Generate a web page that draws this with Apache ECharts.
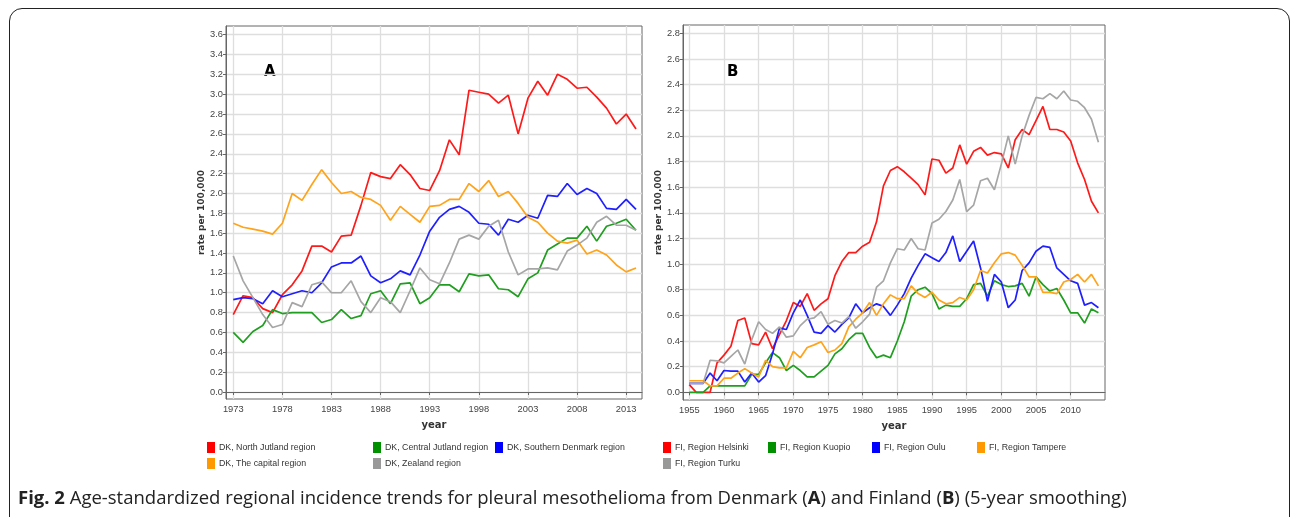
<!DOCTYPE html>
<html>
<head>
<meta charset="utf-8">
<script src="https://cdn.jsdelivr.net/npm/echarts@6/dist/echarts.min.js"></script>
<style>
  body { margin: 0; background: #fff; }
  #frame { position: absolute; left: 9px; top: 8px; width: 1279px; height: 540px;
           border: 1.5px solid #222; border-radius: 13px; }
  #main { position: absolute; left: 0; top: 0; width: 1293px; height: 517px; }
</style>
</head>
<body>
<div id="frame"></div>
<div id="main"></div>
<script>
// Denmark (A), 1973-2014
var yearsDK = [];
for (var y = 1973; y <= 2014; y++) yearsDK.push(y);
var dkNames = ['DK, North Jutland region', 'DK, Central Jutland region', 'DK, Southern Denmark region',
               'DK, The capital region', 'DK, Zealand region'];
var dkNorthJutland = [0.78,0.97,0.95,0.84,0.80,0.98,1.08,1.22,1.47,1.47,1.41,1.57,1.58,1.88,2.21,2.17,2.15,2.29,2.19,2.05,2.03,2.23,2.54,2.39,3.04,3.02,3.00,2.91,2.99,2.60,2.96,3.13,2.99,3.20,3.15,3.06,3.07,2.97,2.86,2.70,2.80,2.65];
var dkCentralJutland = [0.60,0.50,0.61,0.67,0.83,0.79,0.80,0.80,0.80,0.70,0.73,0.83,0.74,0.77,0.99,1.02,0.89,1.09,1.10,0.89,0.95,1.08,1.08,1.01,1.19,1.17,1.18,1.04,1.03,0.96,1.14,1.20,1.43,1.49,1.55,1.55,1.67,1.52,1.67,1.70,1.74,1.63];
var dkSouthernDenmark = [0.93,0.95,0.94,0.89,1.02,0.96,0.99,1.02,1.00,1.10,1.26,1.30,1.30,1.37,1.17,1.10,1.14,1.22,1.18,1.38,1.62,1.76,1.84,1.87,1.81,1.70,1.69,1.58,1.74,1.71,1.78,1.75,1.98,1.97,2.10,1.99,2.05,2.00,1.85,1.84,1.94,1.84];
var dkCapital = [1.70,1.66,1.64,1.62,1.59,1.70,2.00,1.93,2.09,2.24,2.11,2.00,2.02,1.96,1.94,1.88,1.73,1.87,1.79,1.71,1.87,1.88,1.94,1.94,2.10,2.02,2.13,1.97,2.02,1.90,1.76,1.71,1.60,1.52,1.50,1.53,1.39,1.43,1.38,1.28,1.21,1.25];
var dkZealand = [1.37,1.12,0.95,0.78,0.65,0.68,0.90,0.86,1.08,1.11,1.00,1.00,1.12,0.91,0.80,0.95,0.91,0.80,1.02,1.25,1.13,1.09,1.30,1.54,1.58,1.54,1.67,1.73,1.41,1.18,1.24,1.24,1.25,1.23,1.42,1.48,1.55,1.71,1.77,1.68,1.68,1.63];
var dkTicks = [1973,1978,1983,1988,1993,1998,2003,2008,2013];
var dkRateTicks = [0,0.2,0.4,0.6,0.8,1.0,1.2,1.4,1.6,1.8,2.0,2.2,2.4,2.6,2.8,3.0,3.2,3.4,3.6];

// Finland (B), 1955-2014
var yearsFI = [];
for (var y2 = 1955; y2 <= 2014; y2++) yearsFI.push(y2);
var fiNames = ['FI, Region Helsinki', 'FI, Region Kuopio', 'FI, Region Oulu', 'FI, Region Tampere', 'FI, Region Turku'];
var fiHelsinki = [0.06,0.00,0.00,0.00,0.23,0.29,0.36,0.56,0.58,0.38,0.37,0.47,0.34,0.45,0.56,0.70,0.67,0.77,0.64,0.69,0.73,0.91,1.02,1.09,1.09,1.14,1.17,1.33,1.61,1.73,1.76,1.72,1.67,1.62,1.54,1.82,1.81,1.71,1.75,1.93,1.78,1.88,1.91,1.85,1.87,1.86,1.75,1.97,2.05,2.01,2.12,2.23,2.05,2.05,2.03,1.96,1.79,1.66,1.49,1.40];
var fiKuopio = [0.00,0.00,0.00,0.05,0.05,0.05,0.05,0.05,0.05,0.14,0.14,0.23,0.31,0.27,0.17,0.21,0.17,0.12,0.12,0.165,0.21,0.30,0.34,0.41,0.46,0.46,0.35,0.27,0.29,0.27,0.40,0.55,0.75,0.80,0.82,0.77,0.65,0.68,0.67,0.67,0.73,0.84,0.85,0.75,0.87,0.84,0.825,0.83,0.85,0.75,0.90,0.84,0.79,0.81,0.72,0.62,0.62,0.54,0.65,0.62];
var fiOulu = [0.07,0.07,0.07,0.15,0.09,0.17,0.165,0.165,0.08,0.15,0.08,0.13,0.30,0.50,0.49,0.62,0.72,0.60,0.47,0.46,0.52,0.47,0.53,0.58,0.69,0.62,0.66,0.69,0.67,0.60,0.68,0.77,0.89,0.99,1.08,1.05,1.02,1.09,1.22,1.02,1.10,1.18,0.97,0.71,0.92,0.86,0.66,0.72,0.95,1.01,1.10,1.14,1.13,0.97,0.92,0.87,0.85,0.68,0.70,0.66];
var fiTampere = [0.09,0.09,0.09,0.05,0.05,0.11,0.11,0.15,0.185,0.15,0.12,0.25,0.20,0.19,0.19,0.32,0.27,0.35,0.37,0.395,0.31,0.33,0.38,0.51,0.57,0.62,0.70,0.60,0.69,0.76,0.73,0.73,0.83,0.77,0.74,0.78,0.72,0.69,0.70,0.74,0.72,0.80,0.95,0.93,1.01,1.08,1.09,1.07,0.99,0.90,0.90,0.78,0.78,0.77,0.86,0.88,0.92,0.86,0.92,0.83];
var fiTurku = [0.07,0.07,0.07,0.25,0.245,0.23,0.28,0.33,0.22,0.41,0.55,0.49,0.46,0.51,0.43,0.44,0.52,0.57,0.58,0.63,0.53,0.56,0.54,0.59,0.50,0.55,0.61,0.82,0.87,1.01,1.12,1.11,1.20,1.12,1.11,1.32,1.35,1.41,1.50,1.66,1.41,1.46,1.65,1.67,1.58,1.78,2.00,1.78,2.00,2.16,2.30,2.29,2.33,2.29,2.35,2.28,2.27,2.22,2.13,1.95];
var fiTicks = [1955,1960,1965,1970,1975,1980,1985,1990,1995,2000,2005,2010];
var fiRateTicks = [0,0.2,0.4,0.6,0.8,1.0,1.2,1.4,1.6,1.8,2.0,2.2,2.4,2.6,2.8];

var lineColors = ['#ff1a1a', '#1f9e1f', '#1f1fff', '#ffa31a', '#a6a6a6'];
var keyColors = ['#ff0000', '#009000', '#0000ff', '#ff9900', '#999999'];

function pairs(years, vals) {
  return years.map(function (yr, i) { return [yr, vals[i]]; });
}

var myChart = echarts.init(document.getElementById('main'));
var labelFont = { fontFamily: 'Liberation Sans', fontSize: 9.3, color: '#444' };

function xAxisFor(idx, min, max, ticks) {
  return {
    type: 'value', gridIndex: idx, min: min, max: max,
    name: 'year', nameLocation: 'middle', nameGap: 21,
    nameTextStyle: { fontFamily: 'DejaVu Sans', fontWeight: 'bold', fontSize: 10, color: '#333' },
    axisLine: { show: true, lineStyle: { color: '#666', width: 1 } },
    axisTick: { show: true, length: 3, customValues: ticks, lineStyle: { color: '#666' } },
    axisLabel: Object.assign({ margin: 6, customValues: ticks, formatter: function (v) { return String(v); } }, labelFont),
    splitLine: { show: true, lineStyle: { color: '#dedede', width: 1.3 } }
  };
}
function yAxisFor(idx, min, max, ticks) {
  return {
    type: 'value', gridIndex: idx, min: min, max: max,
    name: 'rate per 100,000', nameLocation: 'middle', nameGap: 20,
    nameTextStyle: { fontFamily: 'DejaVu Sans', fontWeight: 'bold', fontSize: 9, color: '#333' },
    axisLine: { show: true, lineStyle: { color: '#666', width: 1 } },
    axisTick: { show: true, length: 3, customValues: ticks, lineStyle: { color: '#666' } },
    axisLabel: Object.assign({ margin: 3, customValues: ticks, formatter: function (v) { return v.toFixed(1); } }, labelFont),
    splitLine: { show: true, lineStyle: { color: '#dedede', width: 1.3 } }
  };
}

var dkSeries = [dkNorthJutland, dkCentralJutland, dkSouthernDenmark, dkCapital, dkZealand];
var fiSeries = [fiHelsinki, fiKuopio, fiOulu, fiTampere, fiTurku];

var series = [];
dkSeries.forEach(function (vals, i) {
  series.push({ name: dkNames[i], type: 'line', xAxisIndex: 0, yAxisIndex: 0, data: pairs(yearsDK, vals),
    showSymbol: false, symbol: 'none', lineStyle: { width: 1.7, color: lineColors[i] }, itemStyle: { color: keyColors[i] } });
});
fiSeries.forEach(function (vals, i) {
  series.push({ name: fiNames[i], type: 'line', xAxisIndex: 1, yAxisIndex: 1, data: pairs(yearsFI, vals),
    showSymbol: false, symbol: 'none', lineStyle: { width: 1.7, color: lineColors[i] }, itemStyle: { color: keyColors[i] } });
});

function legendCol(left, top, names) {
  return {
    orient: 'vertical', left: left, top: top, itemWidth: 8, itemHeight: 11, itemGap: 5,
    icon: 'rect', selectedMode: false, padding: 0,
    textStyle: { fontFamily: 'Liberation Sans', fontSize: 8.8, color: '#333', padding: [0, 0, 0, -1] },
    data: names
  };
}

option = {
  animation: false,
  title: {
    left: 18, top: 489, padding: 0,
    text: '{b|Fig. 2} Age-standardized regional incidence trends for pleural mesothelioma from Denmark ({b|A}) and Finland ({b|B}) (5-year smoothing)',
    textStyle: {
      fontFamily: 'Open Sans', fontSize: 18.5, fontWeight: 'normal', color: '#222',
      rich: { b: { fontFamily: 'Open Sans', fontSize: 18.5, fontWeight: 'bold', color: '#222' } }
    }
  },
  grid: [
    { left: 226, top: 26, width: 416, height: 373, show: true, borderColor: '#666', borderWidth: 1 },
    { left: 683, top: 25, width: 422, height: 375, show: true, borderColor: '#666', borderWidth: 1 }
  ],
  xAxis: [xAxisFor(0, 1972.26, 2014.61, dkTicks), xAxisFor(1, 1954.09, 2014.95, fiTicks)],
  yAxis: [yAxisFor(0, -0.0705, 3.687, dkRateTicks), yAxisFor(1, -0.06, 2.865, fiRateTicks)],
  legend: [
    legendCol(207, 442, [dkNames[0], dkNames[3]]),
    legendCol(373, 442, [dkNames[1], dkNames[4]]),
    legendCol(495, 442, [dkNames[2]]),
    legendCol(663, 442, [fiNames[0], fiNames[4]]),
    legendCol(768, 442, [fiNames[1]]),
    legendCol(872, 442, [fiNames[2]]),
    legendCol(977, 442, [fiNames[3]])
  ],
  graphic: [
    { type: 'text', left: 264, top: 65, style: { text: 'A', font: 'bold 15px "DejaVu Sans"', fill: '#000' } },
    { type: 'text', left: 727, top: 65, style: { text: 'B', font: 'bold 15px "DejaVu Sans"', fill: '#000' } }
  ],
  series: series
};
myChart.setOption(option);
</script>
</body>
</html>
